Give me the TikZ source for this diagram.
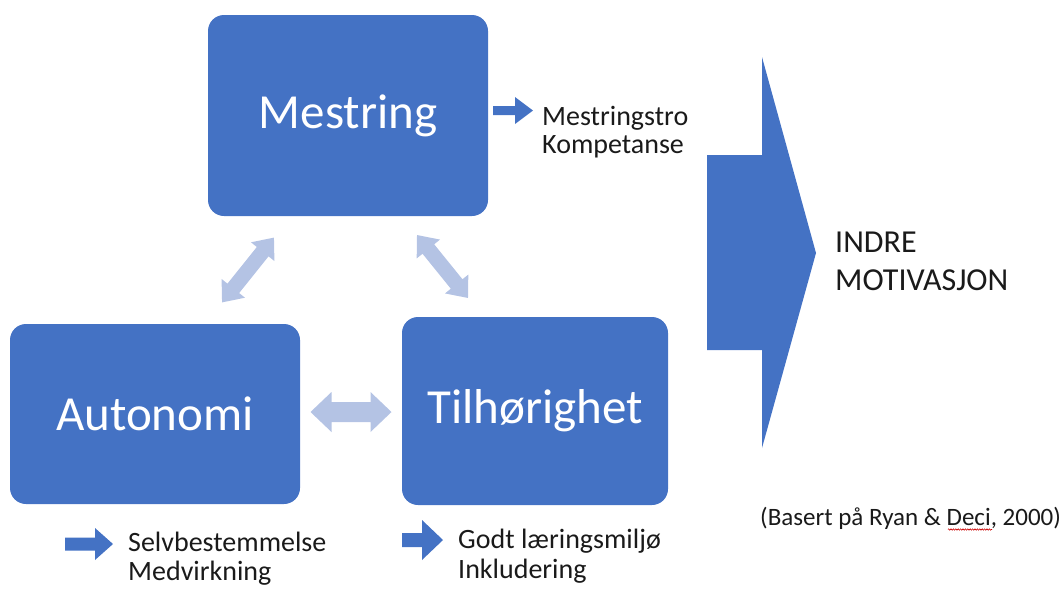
\documentclass[tikz,border=0pt]{standalone}
\usepackage{fontspec}
\setmainfont{Carlito}
\usetikzlibrary{decorations.pathmorphing}

\definecolor{boxblue}{HTML}{4472C4}
\definecolor{linkblue}{HTML}{B4C3E4}
\definecolor{inktext}{HTML}{1A1A1A}

\tikzset{
  need/.style={fill=boxblue, rounded corners=16pt, text=white, inner sep=0pt,
    font=\fontsize{49}{59}\selectfont},
  note/.style={anchor=base west, inner sep=0pt, text=inktext,
    font=\fontsize{28}{33}\selectfont},
  goal/.style={anchor=base west, inner sep=0pt, text=inktext,
    font=\fontsize{32}{38}\selectfont},
  source/.style={anchor=base west, inner sep=0pt, text=inktext,
    font=\fontsize{25}{30}\selectfont},
  % block arrow pointing right: length, head start, shaft half-width, head half-width
  pics/onewayarrow/.style n args={4}{code={
    \fill[boxblue] (0,#3) -- (#2,#3) -- (#2,#4) -- (#1,0) -- (#2,-#4)
      -- (#2,-#3) -- (0,-#3) -- cycle;}},
  % double-headed block arrow centred on the origin:
  % half length, head length, shaft half-width, head half-width
  pics/twowayarrow/.style n args={4}{code={
    \fill[linkblue] (-#1,0) -- (-#1+#2,#4) -- (-#1+#2,#3) -- (#1-#2,#3)
      -- (#1-#2,#4) -- (#1,0) -- (#1-#2,-#4) -- (#1-#2,-#3)
      -- (-#1+#2,-#3) -- (-#1+#2,-#4) -- cycle;}}
}

\begin{document}
\begin{tikzpicture}[x=1pt, y=-1pt]
  \useasboundingbox (0,0) rectangle (1063,590);

  % the three basic needs
  \node[need, minimum width=280, minimum height=201] (mestring) at (348,115.5) {Mestring};
  \node[need, minimum width=290, minimum height=180] (autonomi) at (155,414) {Autonomi};
  \node[need, minimum width=266, minimum height=188] (tilhorighet) at (535,411) {Tilhørighet};

  % links between the needs
  \pic[rotate=51.3] at (248,270) {twowayarrow={41.5}{18}{7.5}{15}};
  \pic[rotate=-51] at (442.5,266.5) {twowayarrow={40.5}{18}{7.5}{15}};
  \pic at (351,412) {twowayarrow={40.5}{21}{10}{20}};

  % outcomes of each need
  \pic at (493,110.5) {onewayarrow={40}{22}{4.5}{13.5}};
  \node[note] (mtro) at (542,125) {Mestringstro};
  \node[note] (komp) at (542,153) {Kompetanse};

  \pic at (65,544) {onewayarrow={48}{30}{6.5}{16}};
  \node[note] (selv) at (128,551) {Selvbestemmelse};
  \node[note] (medv) at (128,580) {Medvirkning};

  \pic at (402,540) {onewayarrow={41}{20}{7}{20}};
  \node[note] (godt) at (458,548) {Godt læringsmiljø};
  \node[note] (inkl) at (458,578) {Inkludering};

  % large arrow leading to the result
  \fill[boxblue] (707,155) -- (762,155) -- (762,57) -- (816,253)
    -- (762,448) -- (762,350) -- (707,350) -- cycle;
  \node[goal] (indre) at (835,252) {INDRE};
  \node[goal] (motiv) at (835,290) {MOTIVASJON};

  % reference
  \node[source] (kilde) at (760,525) {(Basert på Ryan \& Deci, 2000)};
  \draw[red!80!black, line width=0.6pt, decorate,
    decoration={zigzag, amplitude=0.7pt, segment length=2.4pt}]
    (948,529.5) -- (992,529.5);
\end{tikzpicture}
\end{document}
